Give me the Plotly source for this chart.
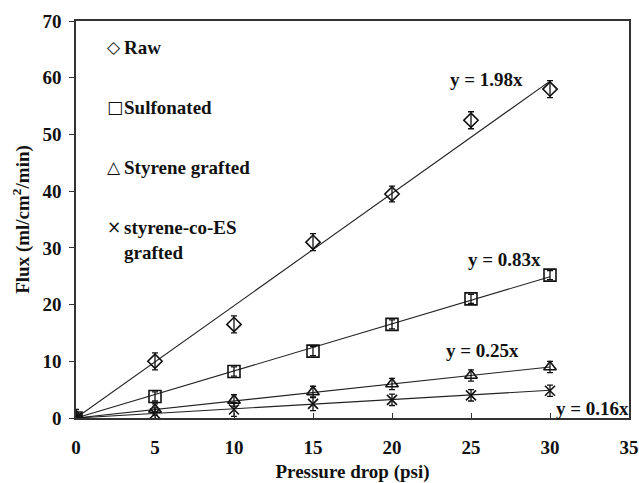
import plotly.graph_objects as go

pressure = [0, 5, 10, 15, 20, 25, 30]
raw = [0, 10.0, 16.5, 31.0, 39.5, 52.5, 58.0]
raw_err = [1.5, 1.5, 1.5, 1.5, 1.4, 1.5, 1.5]
sulf = [0, 3.8, 8.2, 11.8, 16.5, 21.0, 25.2]
sulf_err = [0.6, 0.8, 0.8, 0.8, 0.8, 0.8, 0.8]
styr = [0, 1.5, 3.1, 4.6, 6.0, 7.5, 9.0]
styr_err = [0.5, 1.0, 1.0, 1.0, 1.0, 1.0, 1.0]
coes = [0, 0.8, 1.5, 2.5, 3.2, 4.0, 4.8]
coes_err = [0.5, 1.0, 1.2, 1.2, 1.0, 1.0, 1.0]

fit_slopes = [1.98, 0.83, 0.30, 0.163]
fit_labels = ["y = 1.98x", "y = 0.83x", "y = 0.25x", "y = 0.16x"]
label_pos = [(26.0, 59.6), (27.15, 27.9), (25.7, 11.9), (32.7, 1.6)]
fit_x = [0, 30]

legend_symbols = ["◇", "□", "△", "×"]
legend_names = ["Raw", "Sulfonated", "Styrene grafted", "styrene-co-ES<br>grafted"]

FONT = "Liberation Serif"
fig = go.Figure()

series = [
    (raw, raw_err, "diamond-open", 11),
    (sulf, sulf_err, "square-open", 12),
    (styr, styr_err, "triangle-up-open", 11),
    (coes, coes_err, "x-thin-open", 10),
]

for slope in fit_slopes:
    fig.add_trace(go.Scatter(x=fit_x, y=[slope * v for v in fit_x], mode="lines",
                             line=dict(color="#222", width=1.1), showlegend=False, hoverinfo="skip"))

for ys, err, sym, sz in series:
    fig.add_trace(go.Scatter(
        x=pressure, y=ys, mode="markers",
        marker=dict(symbol=sym, size=sz, color="#111", line=dict(color="#111", width=1.6)),
        error_y=dict(type="data", array=err, visible=True, color="#111", thickness=1.3, width=3),
        showlegend=False))

for txt, (lx, ly) in zip(fit_labels, label_pos):
    fig.add_annotation(x=lx, y=ly, text="<b>%s</b>" % txt, showarrow=False,
                       font=dict(family=FONT, size=19, color="#111"), xanchor="center", yanchor="middle")

leg_y = [47, 107, 167, 227]
for sym, name, py in zip(legend_symbols, legend_names, leg_y):
    fig.add_annotation(xref="paper", yref="paper", x=(105 - 76) / 553, y=(418 - py) / 397,
                       text=sym, showarrow=False,
                       font=dict(family="DejaVu Sans", size=17, color="#111"),
                       xanchor="left", yanchor="middle")
    fig.add_annotation(xref="paper", yref="paper", x=(122 - 76) / 553, y=(418 - py) / 397,
                       text="<b>%s</b>" % name, showarrow=False, align="left",
                       font=dict(family=FONT, size=19, color="#111"), xanchor="left", yanchor="top",
                       yshift=12)

fig.update_layout(
    width=639, height=483,
    margin=dict(l=76, r=10, t=21, b=65),
    paper_bgcolor="white", plot_bgcolor="white",
    font=dict(family=FONT, size=18, color="#111"),
    xaxis=dict(range=[0, 35], dtick=5, tick0=0, showgrid=False, zeroline=False,
               showline=True, mirror=True, linecolor="#333", linewidth=1.5,
               ticks="inside", ticklen=5, tickcolor="#333", automargin=False,
               tickfont=dict(family=FONT, size=19), ticklabelstandoff=11,
               title=dict(text="<b>Pressure drop (psi)</b>", font=dict(family=FONT, size=19), standoff=8)),
    yaxis=dict(range=[0, 70], dtick=10, tick0=0, showgrid=False, zeroline=False,
               showline=True, mirror=True, linecolor="#333", linewidth=1.5,
               ticks="outside", ticklen=5, tickcolor="#333", automargin=False,
               tickfont=dict(family=FONT, size=19), ticklabelstandoff=4,
               title=dict(text="<b>Flux (ml/cm<sup>2</sup>/min)</b>", font=dict(family=FONT, size=19), standoff=8)),
)
fig.update_xaxes(tickprefix="<b>", ticksuffix="</b>")
fig.update_yaxes(tickprefix="<b>", ticksuffix="</b>")

fig.write_html("out.html")
